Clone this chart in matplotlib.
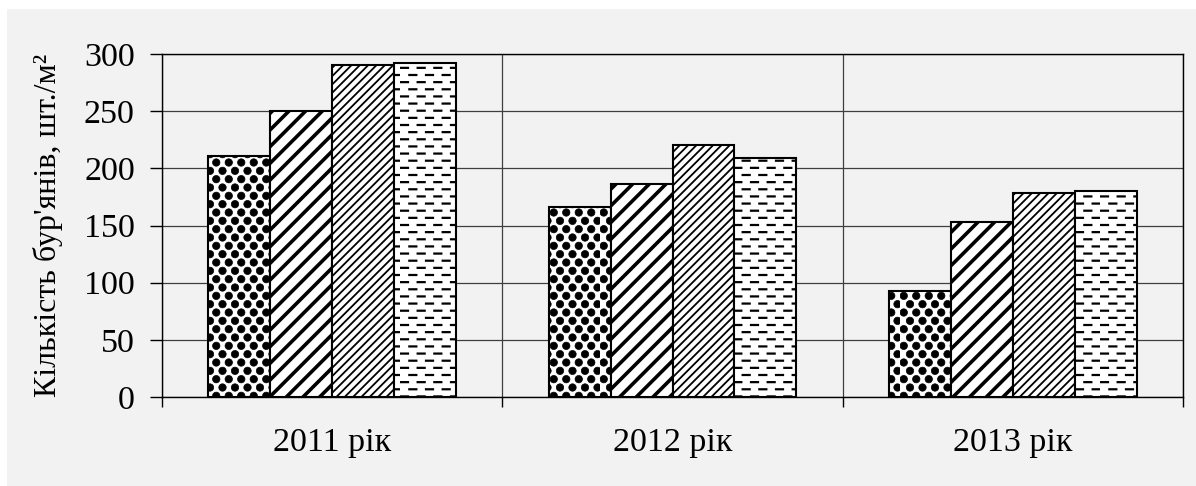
import numpy as np
import matplotlib
matplotlib.use("Agg")
import matplotlib.pyplot as plt
import matplotlib.hatch as mhatch
from matplotlib.path import Path
from matplotlib.patches import Rectangle

years = ["2011 рік", "2012 рік", "2013 рік"]
series_1 = [211, 166, 93]
series_2 = [250, 186, 153]
series_3 = [290, 220, 178]
series_4 = [292, 209, 180]
y_ticks = [0, 50, 100, 150, 200, 250, 300]
y_label = "Кількість бур'янів, шт./м²"


class BallHatch(mhatch.HatchPatternBase):
    # staggered black dots, used for '.'
    def __init__(self, hatch, density):
        n = hatch.count('.')
        self.rows = 12 * n
        self.cols = 8 * n
        self.circle = Path.unit_circle()
        self.num_vertices = self.rows * self.cols * len(self.circle.vertices)

    def set_vertices_and_codes(self, vertices, codes):
        cv = self.circle.vertices * 0.037
        parts_v, parts_c = [], []
        for r in range(self.rows):
            y = (r + 0.5) / self.rows
            shift = 0.5 * (r % 2)
            for c in range(self.cols):
                x = (c + 0.3 + shift) / self.cols
                parts_v.append(cv + [x, y])
                parts_c.append(self.circle.codes)
        np.concatenate(parts_v, out=vertices)
        np.concatenate(parts_c, out=codes)


class DashHatch(mhatch.HatchPatternBase):
    # staggered short horizontal dashes, used for '-'
    def __init__(self, hatch, density):
        n = hatch.count('-') + hatch.count('+')
        self.rows = 14 * n
        self.cols = 6
        self.num_vertices = self.rows * self.cols * 2

    def set_vertices_and_codes(self, vertices, codes):
        k = 0
        for r in range(self.rows):
            y = (r + 0.5) / self.rows
            shift = 0.5 * (r % 2)
            for c in range(self.cols):
                x0 = (c + 0.06 + shift) / self.cols
                vertices[k] = (x0, y)
                vertices[k + 1] = (x0 + 0.07, y)
                codes[k] = Path.MOVETO
                codes[k + 1] = Path.LINETO
                k += 2


mhatch._hatch_types[mhatch._hatch_types.index(mhatch.HorizontalHatch)] = DashHatch
mhatch._hatch_types[mhatch._hatch_types.index(mhatch.SmallFilledCircles)] = BallHatch

plt.rcParams['font.family'] = ['Liberation Serif', 'DejaVu Serif']
plt.rcParams['hatch.color'] = 'black'

fig = plt.figure(figsize=(11.96, 4.86), dpi=100, facecolor='white')
fig.patches.append(Rectangle((7 / 1196, 0), 1 - 7 / 1196, 477 / 486,
                             transform=fig.transFigure, facecolor='#f2f2f2',
                             edgecolor='none', zorder=-10))
ax = fig.add_axes([162 / 1196, 1 - 397 / 486, 1021 / 1196, 343 / 486])
ax.set_facecolor('#f2f2f2')

x = np.arange(len(years))
w = 0.182
styles = [('.', 0.5), ('//', 2.6), ('////', 1.3), ('-', 1.6)]
for i, (vals, (h, hlw)) in enumerate(zip([series_1, series_2, series_3, series_4], styles)):
    bars = ax.bar(x + (i - 1.5) * w, vals, w, facecolor='white', edgecolor='black',
                  linewidth=1.5, hatch=h, zorder=3)
    for b in bars:
        if hasattr(b, 'set_hatch_linewidth'):
            b.set_hatch_linewidth(hlw)

ax.set_xlim(-0.5, 2.5)
ax.set_ylim(0, 300)
ax.set_yticks(y_ticks)
ax.set_xticks([-0.5, 0.5, 1.5, 2.5])
ax.set_xticklabels([])
ax.set_xticks(x, minor=True)
ax.set_xticklabels(years, minor=True)
ax.tick_params(axis='x', which='major', length=7.5, width=1, direction='out')
ax.tick_params(axis='x', which='minor', length=0, pad=22, labelsize=24.5)
ax.tick_params(axis='y', length=8.6, width=1, pad=11, labelsize=24.5)
ax.grid(True, which='major', color='#3f3f3f', linewidth=0.9)
ax.set_axisbelow(True)
for s in ax.spines.values():
    s.set_color('black')
    s.set_linewidth(1)
ax.set_ylabel(y_label, fontsize=23, labelpad=15)

fig.savefig("out.png", dpi=100, facecolor=fig.get_facecolor())
